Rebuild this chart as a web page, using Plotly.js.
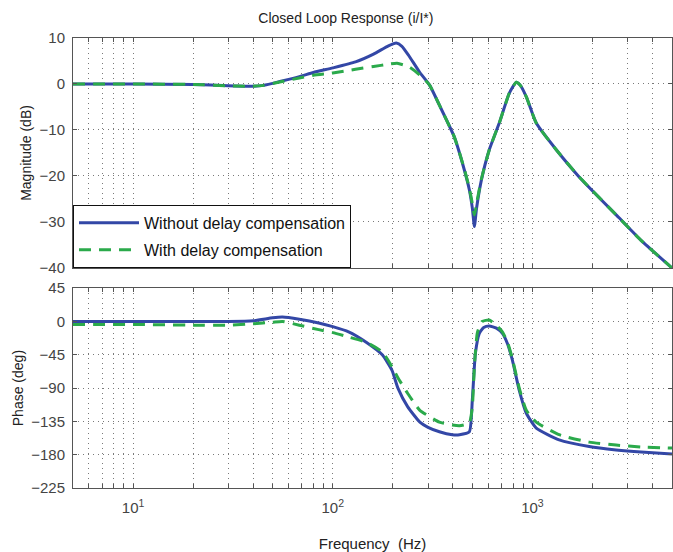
<!DOCTYPE html>
<html>
<head>
<meta charset="utf-8">
<script src="https://cdn.plot.ly/plotly-3.0.1.min.js"></script>
<style>html,body{margin:0;padding:0;background:#fff;}#chart{width:673px;height:552px;}</style>
</head>
<body>
<div id="chart"></div>
<script>
// Magnitude, without delay compensation
const magFreqBlue = [5,10,20,30,38,45,55,68,80,100,130,160,190,208,222,240,272,305,342,406,456,483,500,512,525,555,608,682,766,830,870,932,1045,1316,1714,2716,3500,5000];
const magBlue     = [0,0,-0.1,-0.4,-0.5,-0.3,0.6,1.6,2.5,3.5,4.8,6.5,8.3,8.9,8.2,6.2,2.6,-0.2,-4.6,-11.5,-18.7,-23,-27,-31,-27,-20.9,-14.3,-8.5,-2,0.4,-0.3,-2.8,-8.5,-14.3,-20.2,-29.1,-34,-40];
// Magnitude, with delay compensation
const magFreqGreen = [5,10,20,30,38,45,55,68,80,100,130,160,190,210,242,272,305,342,406,456,483,500,512,525,555,608,682,766,830,870,932,1045,1316,1714,2716,3500,5000];
const magGreen     = [0,0,-0.1,-0.4,-0.5,-0.3,0.5,1.3,1.9,2.4,3.2,3.8,4.3,4.5,3.7,2,-0.2,-4.6,-11.5,-18.5,-22.7,-26,-28.5,-26,-20.7,-14.3,-8.5,-2,0.4,-0.3,-2.8,-8.5,-14.3,-20.2,-29.1,-34,-40];
// Phase, without delay compensation
const phFreqBlue = [5,10,20,30,40,50,56,68,85,100,120,147,177,198,212,237,273,300,342,397,431,483,500,518,542,570,608,660,707,750,793,859,932,1045,1361,1923,2624,3500,5000];
const phaseBlue  = [0,0,0,0,1,5,6,3,-2,-7,-14,-28,-45,-66,-90,-115,-136,-143,-149,-153,-153,-149,-106,-43,-16,-8,-6,-9,-16,-30,-52,-93,-124,-144,-160,-169,-173.6,-176.5,-179];
// Phase, with delay compensation
const phFreqGreen = [5,10,20,30,40,50,56,68,85,100,120,147,177,198,212,237,273,342,397,431,483,500,512,530,560,608,670,707,750,793,859,932,1045,1361,1923,2624,3500,5000];
const phaseGreen  = [-4,-4,-5,-5,-3,-1,0,-5,-11,-15,-21,-28,-41,-61,-76,-97,-120,-136,-140,-141,-137,-115,-61,-15,0,2,-7,-14,-28,-50,-90,-120,-136,-153,-163,-167,-169.5,-171];

const traceNames = ['Without delay compensation','With delay compensation'];
const majorTicks = [10,100,1000];
const majorText = ['10<sup>1</sup>','10<sup>2</sup>','10<sup>3</sup>'];
const magTicks = [-40,-30,-20,-10,0,10];
const phaseTicks = [-225,-180,-135,-90,-45,0,45];

// grid positions (1..9 x decade) within the range
const gridVals = [];
const gridText = [];
[1,10,100,1000].forEach(d => {
  for (let m = 1; m <= 9; m++) {
    const v = m*d;
    if (v >= 5 && v <= 5000) {
      gridVals.push(v);
      const k = majorTicks.indexOf(v);
      gridText.push(k >= 0 ? majorText[k] : '');
    }
  }
});

const blue = '#3347A6';
const green = '#2BAA4B';

const data = [
  {x: magFreqBlue, y: magBlue, xaxis:'x', yaxis:'y', type:'scatter', mode:'lines', name: traceNames[0], legendgroup:'a',
   line:{color:blue, width:3, shape:'spline', smoothing:0.5}},
  {x: magFreqGreen, y: magGreen, xaxis:'x', yaxis:'y', type:'scatter', mode:'lines', name: traceNames[1], legendgroup:'b',
   line:{color:green, width:3, dash:'12px,8px', shape:'spline', smoothing:0.5}},
  {x: phFreqBlue, y: phaseBlue, xaxis:'x2', yaxis:'y2', type:'scatter', mode:'lines', showlegend:false,
   line:{color:blue, width:3, shape:'spline', smoothing:0.5}},
  {x: phFreqGreen, y: phaseGreen, xaxis:'x2', yaxis:'y2', type:'scatter', mode:'lines', showlegend:false,
   line:{color:green, width:3, dash:'12px,8px', shape:'spline', smoothing:0.5}}
];

const fontFam = 'Liberation Sans, Arial, sans-serif';
const xr = [Math.log10(5), Math.log10(5000)];
const gridCol = '#7a7a7a';
const baseX = {
  type:'log', range: xr, tickmode:'array', tickvals: gridVals, ticktext: gridText,
  showgrid:true, gridcolor:gridCol, griddash:'1px,4px', gridwidth:1,
  showline:true, linecolor:'#555', linewidth:1, mirror:'ticks',
  ticks:'inside', ticklen:4, tickcolor:'#555', zeroline:false,
  tickfont:{family:fontFam, size:15, color:'#444'}
};
const baseY = {
  showgrid:true, gridcolor:gridCol, griddash:'1px,4px', gridwidth:1,
  showline:true, linecolor:'#555', linewidth:1, mirror:'ticks',
  ticks:'inside', ticklen:4, tickcolor:'#555', zeroline:false,
  tickfont:{family:fontFam, size:15, color:'#444'}, ticklabelstandoff:4
};

const layout = {
  width:673, height:552,
  margin:{l:73, r:1, t:38, b:64},
  paper_bgcolor:'#fff', plot_bgcolor:'#fff',
  font:{family:fontFam, color:'#222'},
  title:{text:'Closed Loop Response (i/I*)', x:0.514, xanchor:'center', y:1-18/552, yanchor:'middle', xref:'container', yref:'container',
         font:{family:fontFam, size:14, color:'#222'}},
  xaxis: Object.assign({}, baseX, {domain:[0,1], anchor:'y', showticklabels:false}),
  yaxis: Object.assign({}, baseY, {domain:[0.489,1], anchor:'x', range:[-40,10], tickvals: magTicks,
          title:{text:'Magnitude (dB)', font:{family:fontFam, size:14, color:'#222'}, standoff:4}}),
  xaxis2: Object.assign({}, baseX, {domain:[0,1], anchor:'y2', matches:'x', ticklabelstandoff:6,
          title:{text:'Frequency  (Hz)', font:{family:fontFam, size:15, color:'#222'}, standoff:23}}),
  yaxis2: Object.assign({}, baseY, {domain:[0,0.444], anchor:'x2', range:[-225,45], tickvals: phaseTicks,
          title:{text:'Phase (deg)', font:{family:fontFam, size:14, color:'#222'}, standoff:4}}),
  showlegend:true,
  legend:{x:0, y:0.489, xanchor:'left', yanchor:'bottom', xref:'paper', yref:'paper',
          bgcolor:'#fff', bordercolor:'#111', borderwidth:1, tracegroupgap:3,
          font:{family:fontFam, size:16, color:'#111'}, itemwidth:60}
};

Plotly.newPlot('chart', data, layout, {displayModeBar:false, staticPlot:true});
</script>
</body>
</html>
